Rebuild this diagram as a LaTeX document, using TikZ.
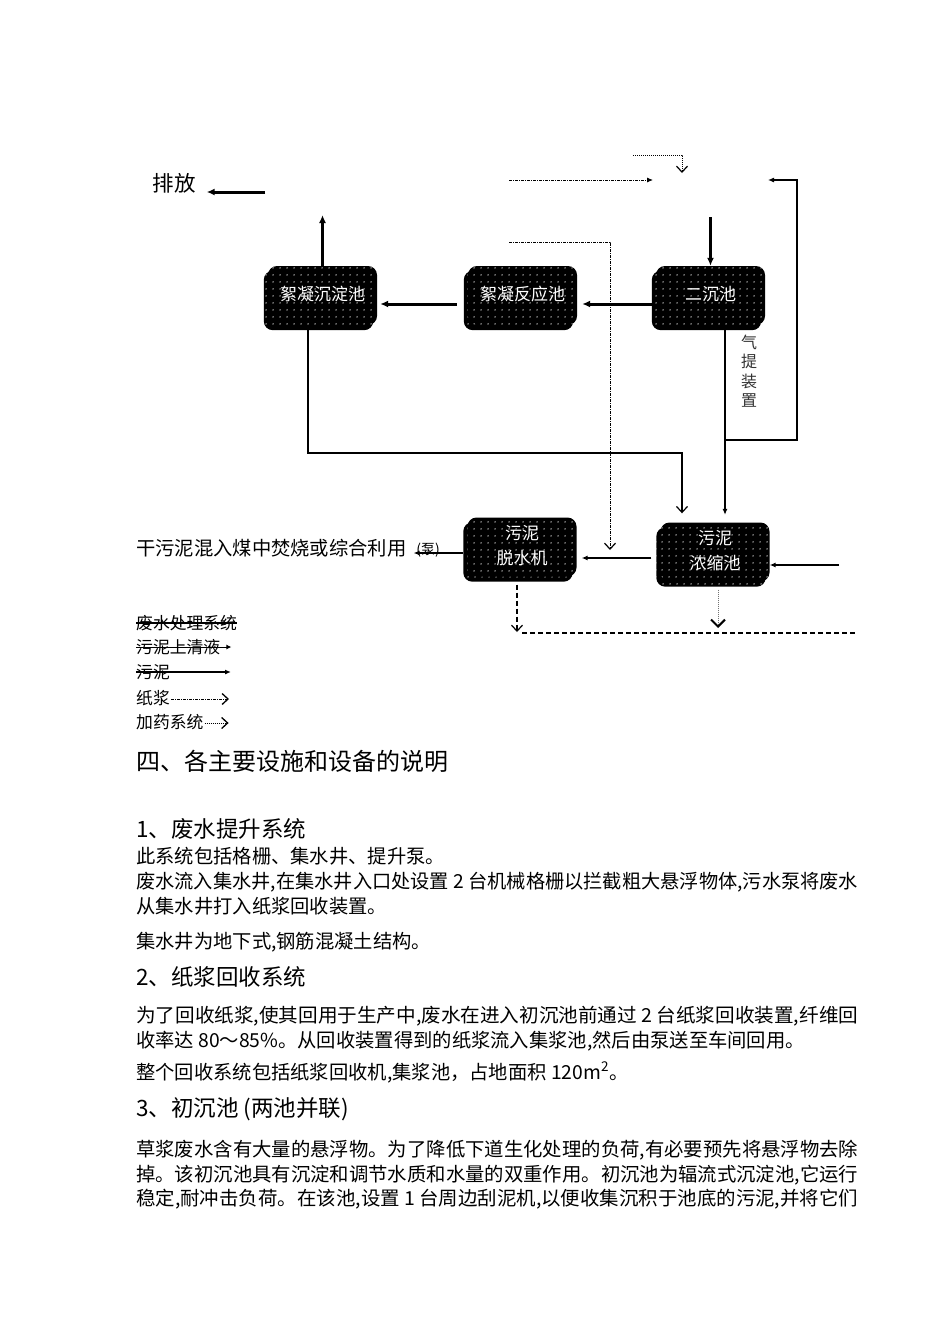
\documentclass[tikz,border=0pt]{standalone}
\usepackage{fontspec}
\usepackage{graphicx}
\setmainfont{Noto Sans CJK SC}
\usetikzlibrary{arrows.meta,patterns.meta,calc,backgrounds}
\newcommand\fsz[1]{\fontsize{#1}{#1}\selectfont}
\newcommand\fitline[1]{\resizebox{722pt}{\height}{#1}}
\begin{document}
\begin{tikzpicture}[x=1pt,y=-1pt,
  tank/.style={minimum width=109pt, minimum height=59pt, rounded corners=9pt, inner sep=0pt,
    preaction={fill=black}, pattern={Dots[distance=6.5pt,radius=0.75pt]}, pattern color=white,
    text=white, font=\fontsize{17}{25}\selectfont, align=center},
  tankshadow/.style={preaction={fill=black}, pattern={Dots[distance=6.5pt,radius=0.75pt]}, pattern color=white, rounded corners=9pt},
  lbl/.style={inner sep=0pt, text=black},
  body/.style={anchor=base west, inner sep=0pt, font=\fsz{19.3}},
  head/.style={anchor=base west, inner sep=0pt, font=\fsz{22.5}},
  leg/.style={anchor=west, inner sep=0pt, font=\fsz{16.8}},
  wline/.style={line width=3pt, -{Latex[length=8pt,width=7pt]}},
  sline/.style={line width=1.1pt, -{Latex[length=6pt,width=5pt]}},
  barb/.style={-{Straight Barb[length=6pt,width=11pt,line width=1.2pt]}},
  dashdotline/.style={line width=0.9pt, dash pattern=on 3pt off 1pt on 1pt off 1pt},
  dotline/.style={line width=1pt, dash pattern=on 1pt off 1pt},
  dashline/.style={line width=1.1pt, dash pattern=on 5pt off 3pt}
]
\useasboundingbox (0,0) rectangle (950,1344);

% ---------- tanks ----------
\node[tank] (A) at (322.5,295.5) {\raisebox{5pt}{絮凝沉淀池}};
\node[tank] (B) at (522.5,295.5) {\raisebox{5pt}{絮凝反应池}};
\node[tank] (C) at (710.5,295.5) {\raisebox{5pt}{二沉池}};
\node[tank] (D) at (522,547) {\raisebox{-5pt}{\begin{tabular}{@{}c@{}}污泥\\脱水机\end{tabular}}};
\node[tank] (E) at (715,552) {\raisebox{-6pt}{\begin{tabular}{@{}c@{}}污泥\\浓缩池\end{tabular}}};
\begin{scope}[on background layer]
\path[fill=white] (0,0) rectangle (950,1344);
\foreach \n in {A,B,C,D,E} {
  \path[tankshadow] ($(\n.south west)+(-4,5)$) rectangle ($(\n.north east)+(-4,5)$);
}
\end{scope}

% ---------- labels ----------
\node[lbl, font=\fsz{21.5}] (P) at (174,183) {排放};
\node[lbl, anchor=west, font=\fsz{19.3}] (G) at (136,548) {干污泥混入煤中焚烧或综合利用};
\node[lbl, font=\fsz{14}] (PB) at (428,550) {(泵)};
\node[lbl, font=\fontsize{16}{19.5}\selectfont, align=center, text=black!80] (Q) at (749,371) {气\\提\\装\\置};

% ---------- free ends ----------
\coordinate (pStart) at (265,192);
\coordinate (aTop) at (322.5,215);
\coordinate (cTop) at (710.5,217);
\coordinate (jy1) at (633,155);
\coordinate (jy2) at (682,173);
\coordinate (zj1) at (509,180);
\coordinate (zj2) at (653,180);
\coordinate (zj3) at (509,242);
\coordinate (zj4) at (610,550);
\coordinate (loopR) at (797,440);
\coordinate (loopEnd) at (768,180);
\coordinate (abR) at (682,453);
\coordinate (eIn) at (839,565);
\coordinate (dOut) at (517,632);
\coordinate (eOut) at (718,628);
\coordinate (h1) at (522,633);
\coordinate (h2) at (857,633);

% ---------- connectors ----------
\draw[wline] (pStart) -- ($(P.east)+(11,9)$);
\draw[wline] (A.north) -- (aTop);
\draw[wline] ($(B.west)+(-11,8.5)$) -- ($(A.east)+(3,8.5)$);
\draw[wline] ($(C.west)+(-4,8.5)$) -- ($(B.east)+(5,8.5)$);
\draw[wline] (cTop) -- (C.north);
\draw[dotline, barb] (jy1) -| (jy2);
\draw[dashdotline, -{Latex[length=6pt,width=5pt]}] (zj1) -- (zj2);
\coordinate (cb) at ($(C.south)+(14.5,5)$);
\draw[sline, shorten >=7.5pt] (cb) -- (cb |- E.north);
\draw[sline] (cb |- loopR) -- (loopR) |- (loopEnd);
\draw[dashdotline, barb] (zj3) -| (zj4);
\coordinate (ab) at ($(A.south)+(-14.5,5)$);
\draw[line width=1.1pt, barb, shorten >=9pt] (ab) |- (abR) -- (abR |- E.north);
\draw[sline] ($(E.west)+(-9,6)$) -- ($(D.east)+(5,11)$);
\draw[sline] (eIn) -- ($(E.east)+(0,13)$);
\draw[sline] ($(D.west)+(-4,6)$) -- ($(G.east)+(7,5)$);
\draw[dashline, barb] ($(D.south)+(-5,8)$) -- (dOut);
\draw[black!55, line width=0.9pt, dash pattern=on 1pt off 1pt, -{Straight Barb[length=7pt,width=14pt,line width=2pt,color=black]}] ($(E.south)+(3,8)$) -- (eOut);
\draw[dashline] (h1) -- (h2);

% ---------- legend ----------
\node[leg] (L1) at (136,623) {废水处理系统};
\node[leg] (L2) at (136,647) {污泥上清液};
\node[leg] (L3) at (136,672) {污泥};
\node[leg] (L4) at (136,698) {纸浆};
\node[leg] (L5) at (136,722) {加药系统};
\draw[line width=2.4pt] (L1.west) -- (L1.east);
\draw[line width=1pt, -{Latex[length=5pt,width=5pt]}] (L2.west) -- ($(L2.east)+(11,0)$);
\draw[line width=1.2pt, -{Latex[length=6pt,width=5pt]}] (L3.west) -- ($(L3.east)+(61,0)$);
\draw[dashdotline, -{Straight Barb[length=6pt,width=11pt,line width=1.3pt]}] ($(L4.east)+(1,1)$) -- ($(L4.east)+(59,1)$);
\draw[dotline, -{Straight Barb[length=6pt,width=11pt,line width=1.3pt]}] ($(L5.east)+(1,1)$) -- ($(L5.east)+(25,1)$);

% ---------- body text ----------
\node[anchor=base west, inner sep=0pt, font=\fsz{24}] (t1) at (136,770) {四、各主要设施和设备的说明};
\node[head] (t2) at (136,837.6) {1、废水提升系统};
\node[body] (t3) at (136,863.3) {此系统包括格栅、集水井、提升泵。};
\node[body] (t4) at (136,888.3) {\fitline{废水流入集水井,在集水井入口处设置 2 台机械格栅以拦截粗大悬浮物体,污水泵将废水}};
\node[body] (t5) at (136,913.3) {从集水井打入纸浆回收装置。};
\node[body] (t6) at (136,948.3) {集水井为地下式,钢筋混凝土结构。};
\node[head] (t7) at (136,985.6) {2、纸浆回收系统};
\node[body] (t8) at (136,1022.3) {\fitline{为了回收纸浆,使其回用于生产中,废水在进入初沉池前通过 2 台纸浆回收装置,纤维回}};
\node[body] (t9) at (136,1047.3) {收率达 80～85\%。从回收装置得到的纸浆流入集浆池,然后由泵送至车间回用。};
\node[body] (t10) at (136,1079.3) {整个回收系统包括纸浆回收机,集浆池，占地面积 120m\textsuperscript{2}。};
\node[head] (t11) at (136,1116.6) {3、初沉池 (两池并联)};
\node[body] (t12) at (136,1156.3) {\fitline{草浆废水含有大量的悬浮物。为了降低下道生化处理的负荷,有必要预先将悬浮物去除}};
\node[body] (t13) at (136,1181.3) {\fitline{掉。该初沉池具有沉淀和调节水质和水量的双重作用。初沉池为辐流式沉淀池,它运行}};
\node[body] (t14) at (136,1205.3) {\fitline{稳定,耐冲击负荷。在该池,设置 1 台周边刮泥机,以便收集沉积于池底的污泥,并将它们}};
\end{tikzpicture}
\end{document}
